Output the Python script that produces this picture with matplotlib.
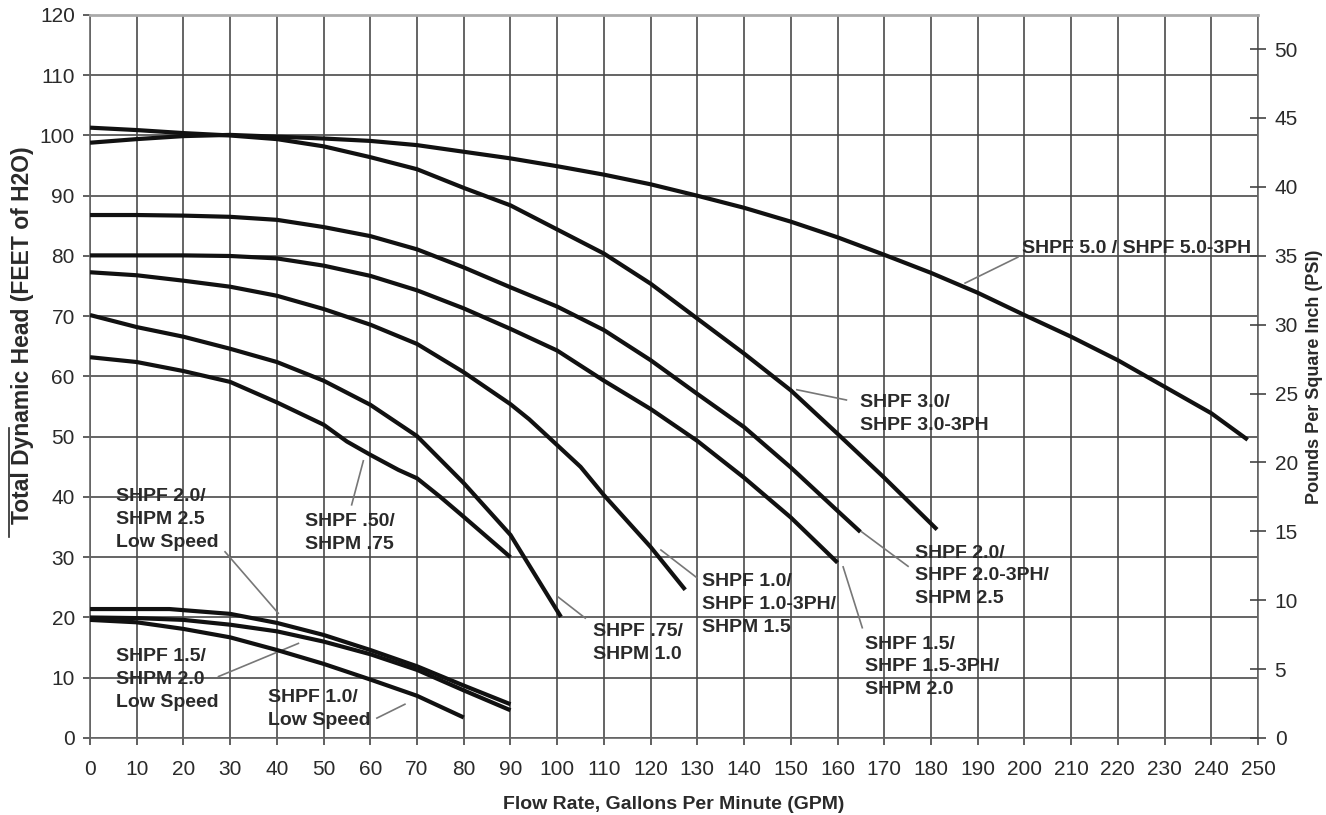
"""
Pump performance curves (head vs flow) for the SHPF / SHPM family.
Values read off the published curve chart; left axis feet of head, right axis PSI.
"""
import matplotlib
matplotlib.use("Agg")
import matplotlib.pyplot as plt
from matplotlib.lines import Line2D

plt.rcParams["font.family"] = ["Liberation Sans", "DejaVu Sans"]

# ---------- data: flow (GPM) -> total dynamic head (ft) ----------
gpm_5_0 = [0, 10, 20, 30, 40, 50, 60, 70, 80, 90, 100, 110, 120, 130, 140, 150,
           160, 170, 180, 190, 200, 210, 220, 230, 240, 247.8]
ft_5_0 = [98.8, 99.4, 99.9, 100.1, 99.8, 99.5, 99.1, 98.4, 97.3, 96.2, 94.9, 93.5,
          91.9, 90.0, 88.0, 85.7, 83.1, 80.2, 77.2, 73.9, 70.2, 66.6, 62.7, 58.3,
          53.9, 49.5]

gpm_3_0 = [0, 10, 20, 30, 40, 50, 60, 70, 80, 90, 100, 110, 120, 130, 140, 150,
           160, 170, 181.3]
ft_3_0 = [101.3, 100.9, 100.4, 100.0, 99.4, 98.2, 96.4, 94.4, 91.3, 88.4, 84.4,
          80.4, 75.4, 69.6, 63.8, 57.7, 50.5, 43.2, 34.6]

gpm_2_0 = [0, 10, 20, 30, 40, 50, 60, 70, 80, 90, 100, 110, 120, 130, 140, 150,
           160, 164.9]
ft_2_0 = [86.8, 86.8, 86.7, 86.5, 86.0, 84.8, 83.3, 81.1, 78.1, 74.8, 71.6, 67.7,
          62.7, 57.1, 51.6, 44.9, 37.7, 34.2]

gpm_1_5 = [0, 10, 20, 30, 40, 50, 60, 70, 80, 90, 100, 110, 120, 130, 140, 150, 160]
ft_1_5 = [80.1, 80.1, 80.1, 80.0, 79.6, 78.4, 76.7, 74.3, 71.3, 67.9, 64.3, 59.3,
          54.6, 49.3, 43.2, 36.6, 29.1]

gpm_1_0 = [0, 10, 20, 30, 40, 50, 60, 70, 80, 90, 94, 100, 105, 110, 120, 127.4]
ft_1_0 = [77.3, 76.8, 75.9, 74.9, 73.4, 71.2, 68.6, 65.4, 60.7, 55.4, 52.9, 48.6,
          45.0, 40.3, 31.7, 24.6]

gpm_075 = [0, 10, 20, 30, 40, 50, 60, 70, 80, 90, 100.8]
ft_075 = [70.2, 68.2, 66.6, 64.6, 62.4, 59.3, 55.3, 50.1, 42.3, 33.7, 20.1]

gpm_050 = [0, 10, 20, 30, 40, 50, 55, 60, 66, 70, 75, 80, 90]
ft_050 = [63.2, 62.4, 60.9, 59.1, 55.7, 52.0, 49.2, 47.0, 44.5, 43.1, 40.0, 36.7, 30.0]

# low speed curves
gpm_2_0_ls = [0, 10, 17, 30, 40, 50, 60, 70, 80, 90]
ft_2_0_ls = [21.4, 21.4, 21.4, 20.6, 19.1, 17.1, 14.6, 11.9, 8.7, 5.6]

gpm_1_5_ls = [0, 10, 20, 30, 40, 50, 60, 70, 80, 90]
ft_1_5_ls = [20.0, 19.9, 19.6, 18.8, 17.7, 16.0, 13.9, 11.3, 7.9, 4.6]

gpm_1_0_ls = [0, 10, 20, 30, 40, 50, 60, 70, 80]
ft_1_0_ls = [19.6, 19.2, 18.1, 16.7, 14.6, 12.3, 9.7, 7.0, 3.4]

curves = [(gpm_5_0, ft_5_0), (gpm_3_0, ft_3_0), (gpm_2_0, ft_2_0),
          (gpm_1_5, ft_1_5), (gpm_1_0, ft_1_0), (gpm_075, ft_075),
          (gpm_050, ft_050), (gpm_2_0_ls, ft_2_0_ls), (gpm_1_5_ls, ft_1_5_ls),
          (gpm_1_0_ls, ft_1_0_ls)]

# labels: text, anchor (GPM, ft), leader line from/to
labels = [
    ("SHPF 5.0 / SHPF 5.0-3PH", (199.5, 81.3), (198.6, 79.8), (187.3, 75.5)),
    ("SHPF 3.0/\nSHPF 3.0-3PH", (164.8, 53.8), (161.9, 56.1), (151.3, 57.8)),
    ("SHPF 2.0/\nSHPF 2.0-3PH/\nSHPM 2.5", (176.6, 26.9), (165.2, 34.2), (175.1, 28.5)),
    ("SHPF 1.5/\nSHPF 1.5-3PH/\nSHPM 2.0", (165.9, 11.8), (161.2, 28.4), (165.3, 18.3)),
    ("SHPF 1.0/\nSHPF 1.0-3PH/\nSHPM 1.5", (131.0, 22.1), (122.2, 31.2), (129.9, 26.6)),
    ("SHPF .75/\nSHPM 1.0", (107.7, 15.7), (100.2, 23.4), (106.0, 19.9)),
    ("SHPF .50/\nSHPM .75", (46.0, 34.0), (56.0, 38.7), (58.5, 46.0)),
    ("SHPF 2.0/\nSHPM 2.5\nLow Speed", (5.5, 36.3), (28.9, 30.9), (40.3, 20.7)),
    ("SHPF 1.5/\nSHPM 2.0\nLow Speed", (5.5, 9.7), (27.5, 10.2), (44.6, 15.7)),
    ("SHPF 1.0/\nLow Speed", (38.2, 4.8), (61.4, 3.3), (67.4, 5.6)),
]

FT_PER_PSI = 2.287
GRID = "#4a4a4a"; INK = "#111111"; TXT = "#2a2a2a"

fig = plt.figure(figsize=(13.26, 8.15), dpi=100)
ax = fig.add_axes([0.0679, 0.0945, 0.8808, 0.8871])

ax.set_xlim(0, 250); ax.set_ylim(0, 120)
ax.set_xticks(range(0, 251, 10)); ax.set_yticks(range(0, 121, 10))
ax.grid(True, color=GRID, lw=1.2)
ax.set_axisbelow(True)
for s in ax.spines.values():
    s.set_color("#666666"); s.set_linewidth(1.2)
ax.spines["top"].set_color("#aaaaaa"); ax.spines["top"].set_linewidth(2)
ax.tick_params(axis="both", labelsize=15, colors="#444444", labelcolor=TXT,
               length=5, width=1.2, direction="out")
ax.tick_params(axis="x", pad=11)
ax.tick_params(axis="y", pad=6)

for x, y in curves:
    ax.plot(x, y, color=INK, lw=3.0, solid_capstyle="butt", zorder=3)

for txt, (tx, ty), p0, p1 in labels:
    ax.plot([p0[0], p1[0]], [p0[1], p1[1]], color="#777777", lw=1.2, zorder=2)
    ax.text(tx, ty, txt, ha="left", va="center", fontsize=14, fontweight="bold",
            color=TXT, linespacing=1.45, zorder=4)

ax.set_xlabel("Flow Rate, Gallons Per Minute (GPM)", fontsize=14,
              fontweight="bold", color=TXT, labelpad=12)

# right axis in PSI
ax2 = ax.twinx()
ax2.set_ylim(0, 120 / FT_PER_PSI)
ax2.set_yticks(range(0, 51, 5))
ax2.tick_params(axis="y", labelsize=15, colors="#444444", labelcolor=TXT,
                length=12, width=1.2, direction="inout", pad=6)
for s in ax2.spines.values():
    s.set_visible(False)
ax2.set_ylabel("Pounds Per Square Inch (PSI)", fontsize=13, fontweight="bold",
               color=TXT, labelpad=6)

# left label with the overline on "Total Dynamic"
fig.text(0.0166, 0.589, "Total Dynamic Head (FEET of H2O)", rotation=90,
         ha="center", va="center", fontsize=16.5, fontweight="bold", color=TXT)
fig.add_artist(Line2D([0.0068, 0.0068], [0.341, 0.475], color=TXT, lw=1.2,
                      transform=fig.transFigure))

fig.savefig("out.png", dpi=100, facecolor="white")
